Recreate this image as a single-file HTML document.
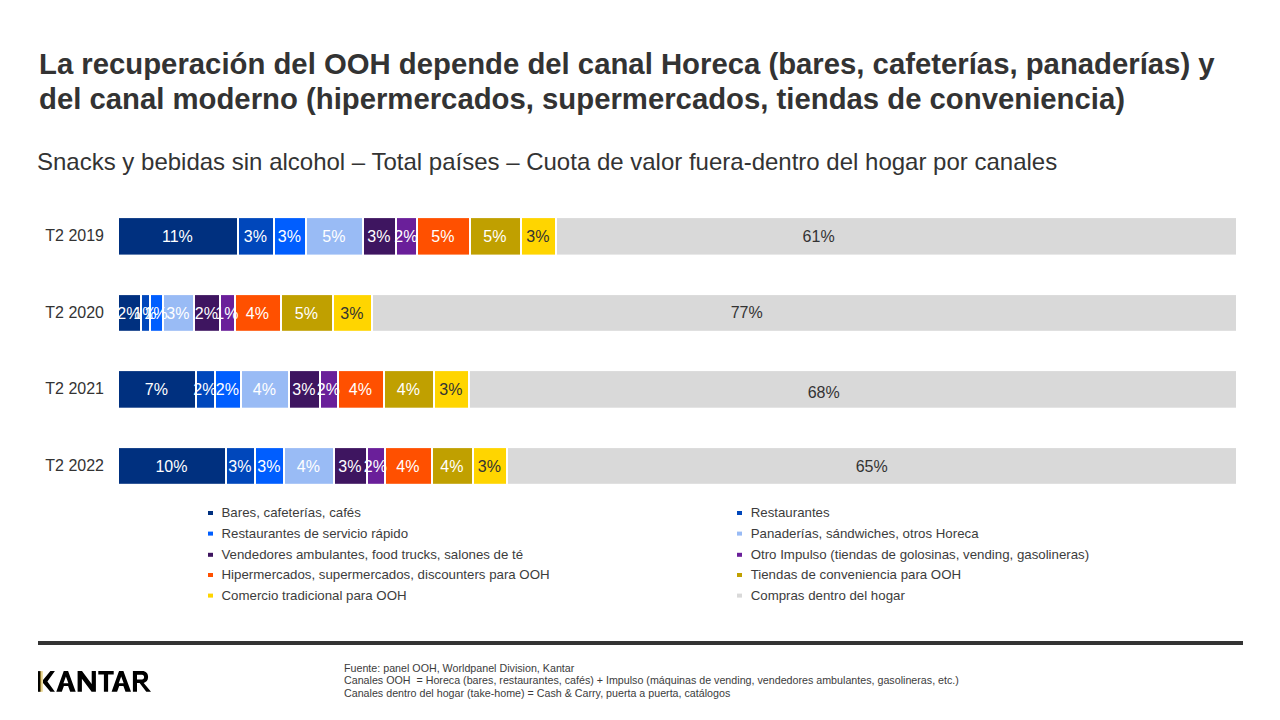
<!DOCTYPE html>
<html><head><meta charset="utf-8">
<style>
html,body{margin:0;padding:0;background:#fff;}
body{width:1280px;height:720px;overflow:hidden;position:relative;font-family:"Liberation Sans",sans-serif;color:#333;}
.title{position:absolute;left:39px;top:46px;font-size:29.3px;font-weight:bold;line-height:35px;white-space:nowrap;letter-spacing:0px;}
.sub{position:absolute;left:37px;top:148px;font-size:24px;line-height:28px;white-space:nowrap;}
svg{position:absolute;left:0;top:0;}
.yl{font-size:16px;fill:#333;}
.bl{font-size:16px;}
.lg{font-size:13.27px;fill:#3c3c3c;}
.foot{position:absolute;left:344px;top:661.5px;font-size:10.7px;line-height:12.7px;white-space:nowrap;color:#3c3c3c;}
.rule{position:absolute;left:38px;top:641px;width:1205px;height:4px;background:#333;}
</style></head><body>
<div class="title">La recuperación del OOH depende del canal Horeca (bares, cafeterías, panaderías) y<br>del canal moderno (hipermercados, supermercados, tiendas de conveniencia)</div>
<div class="sub">Snacks y bebidas sin alcohol – Total países – Cuota de valor fuera-dentro del hogar por canales</div>
<svg width="1280" height="720" viewBox="0 0 1280 720" font-family="Liberation Sans, sans-serif">
<text class="yl" x="104" y="241.2" text-anchor="end">T2 2019</text>
<rect x="119" y="218.1" width="118" height="36.5" fill="#00307F"/>
<rect x="239" y="218.1" width="34" height="36.5" fill="#0047BB"/>
<rect x="275" y="218.1" width="30" height="36.5" fill="#005EFF"/>
<rect x="307" y="218.1" width="55" height="36.5" fill="#99BBF5"/>
<rect x="364" y="218.1" width="31" height="36.5" fill="#3E1560"/>
<rect x="397" y="218.1" width="19" height="36.5" fill="#6A1F9A"/>
<rect x="418" y="218.1" width="51" height="36.5" fill="#FF5000"/>
<rect x="471" y="218.1" width="49" height="36.5" fill="#C0A000"/>
<rect x="522" y="218.1" width="33" height="36.5" fill="#FFD500"/>
<rect x="557" y="218.1" width="679" height="36.5" fill="#D9D9D9"/>
<text class="bl" x="177.4" y="242.2" fill="#fff" text-anchor="middle">11%</text>
<text class="bl" x="255.4" y="242.2" fill="#fff" text-anchor="middle">3%</text>
<text class="bl" x="289.4" y="242.2" fill="#fff" text-anchor="middle">3%</text>
<text class="bl" x="333.9" y="242.2" fill="#fff" text-anchor="middle">5%</text>
<text class="bl" x="378.9" y="242.2" fill="#fff" text-anchor="middle">3%</text>
<text class="bl" x="405.9" y="242.2" fill="#fff" text-anchor="middle">2%</text>
<text class="bl" x="442.9" y="242.2" fill="#fff" text-anchor="middle">5%</text>
<text class="bl" x="494.9" y="242.2" fill="#fff" text-anchor="middle">5%</text>
<text class="bl" x="537.9" y="242.2" fill="#333" text-anchor="middle">3%</text>
<text class="bl" x="818.6" y="242.2" fill="#333" text-anchor="middle">61%</text>
<text class="yl" x="104" y="317.8" text-anchor="end">T2 2020</text>
<rect x="119" y="295.1" width="21" height="35.7" fill="#00307F"/>
<rect x="142" y="295.1" width="7" height="35.7" fill="#0047BB"/>
<rect x="151" y="295.1" width="11" height="35.7" fill="#005EFF"/>
<rect x="164" y="295.1" width="29" height="35.7" fill="#99BBF5"/>
<rect x="195" y="295.1" width="24" height="35.7" fill="#3E1560"/>
<rect x="221" y="295.1" width="13" height="35.7" fill="#6A1F9A"/>
<rect x="236" y="295.1" width="44" height="35.7" fill="#FF5000"/>
<rect x="282" y="295.1" width="50" height="35.7" fill="#C0A000"/>
<rect x="334" y="295.1" width="37" height="35.7" fill="#FFD500"/>
<rect x="373" y="295.1" width="863" height="35.7" fill="#D9D9D9"/>
<text class="bl" x="128.9" y="318.8" fill="#fff" text-anchor="middle">2%</text>
<text class="bl" x="144.9" y="318.8" fill="#fff" text-anchor="middle">1%</text>
<text class="bl" x="155.9" y="318.8" fill="#fff" text-anchor="middle">1%</text>
<text class="bl" x="177.9" y="318.8" fill="#fff" text-anchor="middle">3%</text>
<text class="bl" x="206.4" y="318.8" fill="#fff" text-anchor="middle">2%</text>
<text class="bl" x="226.9" y="318.8" fill="#fff" text-anchor="middle">1%</text>
<text class="bl" x="257.4" y="318.8" fill="#fff" text-anchor="middle">4%</text>
<text class="bl" x="306.4" y="318.8" fill="#fff" text-anchor="middle">5%</text>
<text class="bl" x="351.9" y="318.8" fill="#333" text-anchor="middle">3%</text>
<text class="bl" x="746.7" y="317.8" fill="#333" text-anchor="middle">77%</text>
<text class="yl" x="104" y="394.2" text-anchor="end">T2 2021</text>
<rect x="119" y="371.1" width="76" height="36.6" fill="#00307F"/>
<rect x="197" y="371.1" width="17" height="36.6" fill="#0047BB"/>
<rect x="216" y="371.1" width="24" height="36.6" fill="#005EFF"/>
<rect x="242" y="371.1" width="46" height="36.6" fill="#99BBF5"/>
<rect x="290" y="371.1" width="29" height="36.6" fill="#3E1560"/>
<rect x="321" y="371.1" width="16" height="36.6" fill="#6A1F9A"/>
<rect x="339" y="371.1" width="44" height="36.6" fill="#FF5000"/>
<rect x="385" y="371.1" width="48" height="36.6" fill="#C0A000"/>
<rect x="435" y="371.1" width="33" height="36.6" fill="#FFD500"/>
<rect x="470" y="371.1" width="766" height="36.6" fill="#D9D9D9"/>
<text class="bl" x="156.4" y="395.2" fill="#fff" text-anchor="middle">7%</text>
<text class="bl" x="204.9" y="395.2" fill="#fff" text-anchor="middle">2%</text>
<text class="bl" x="227.4" y="395.2" fill="#fff" text-anchor="middle">2%</text>
<text class="bl" x="264.4" y="395.2" fill="#fff" text-anchor="middle">4%</text>
<text class="bl" x="303.9" y="395.2" fill="#fff" text-anchor="middle">3%</text>
<text class="bl" x="328.4" y="395.2" fill="#fff" text-anchor="middle">2%</text>
<text class="bl" x="360.4" y="395.2" fill="#fff" text-anchor="middle">4%</text>
<text class="bl" x="408.4" y="395.2" fill="#fff" text-anchor="middle">4%</text>
<text class="bl" x="450.9" y="395.2" fill="#333" text-anchor="middle">3%</text>
<text class="bl" x="823.7" y="397.7" fill="#333" text-anchor="middle">68%</text>
<text class="yl" x="104" y="470.8" text-anchor="end">T2 2022</text>
<rect x="119" y="448.1" width="106" height="35.7" fill="#00307F"/>
<rect x="227" y="448.1" width="27" height="35.7" fill="#0047BB"/>
<rect x="256" y="448.1" width="27" height="35.7" fill="#005EFF"/>
<rect x="285" y="448.1" width="48" height="35.7" fill="#99BBF5"/>
<rect x="335" y="448.1" width="31" height="35.7" fill="#3E1560"/>
<rect x="368" y="448.1" width="16" height="35.7" fill="#6A1F9A"/>
<rect x="386" y="448.1" width="45" height="35.7" fill="#FF5000"/>
<rect x="433" y="448.1" width="39" height="35.7" fill="#C0A000"/>
<rect x="474" y="448.1" width="32" height="35.7" fill="#FFD500"/>
<rect x="508" y="448.1" width="728" height="35.7" fill="#D9D9D9"/>
<text class="bl" x="171.4" y="471.8" fill="#fff" text-anchor="middle">10%</text>
<text class="bl" x="239.9" y="471.8" fill="#fff" text-anchor="middle">3%</text>
<text class="bl" x="268.9" y="471.8" fill="#fff" text-anchor="middle">3%</text>
<text class="bl" x="308.4" y="471.8" fill="#fff" text-anchor="middle">4%</text>
<text class="bl" x="349.9" y="471.8" fill="#fff" text-anchor="middle">3%</text>
<text class="bl" x="375.4" y="471.8" fill="#fff" text-anchor="middle">2%</text>
<text class="bl" x="407.9" y="471.8" fill="#fff" text-anchor="middle">4%</text>
<text class="bl" x="451.9" y="471.8" fill="#fff" text-anchor="middle">4%</text>
<text class="bl" x="489.4" y="471.8" fill="#333" text-anchor="middle">3%</text>
<text class="bl" x="871.7" y="471.8" fill="#333" text-anchor="middle">65%</text>
<rect x="208" y="511.0" width="5" height="4" fill="#00307F"/>
<text class="lg" x="221.5" y="517.0">Bares, cafeterías, cafés</text>
<rect x="208" y="531.6" width="5" height="4" fill="#005EFF"/>
<text class="lg" x="221.5" y="537.6">Restaurantes de servicio rápido</text>
<rect x="208" y="552.8" width="5" height="4" fill="#3E1560"/>
<text class="lg" x="221.5" y="558.8">Vendedores ambulantes, food trucks, salones de té</text>
<rect x="208" y="573.0" width="5" height="4" fill="#FF5000"/>
<text class="lg" x="221.5" y="579.0">Hipermercados, supermercados, discounters para OOH</text>
<rect x="208" y="593.6" width="5" height="4" fill="#FFD500"/>
<text class="lg" x="221.5" y="599.6">Comercio tradicional para OOH</text>
<rect x="737" y="511.0" width="5" height="4" fill="#0047BB"/>
<text class="lg" x="750.7" y="517.0">Restaurantes</text>
<rect x="737" y="531.6" width="5" height="4" fill="#99BBF5"/>
<text class="lg" x="750.7" y="537.6">Panaderías, sándwiches, otros Horeca</text>
<rect x="737" y="552.8" width="5" height="4" fill="#6A1F9A"/>
<text class="lg" x="750.7" y="558.8">Otro Impulso (tiendas de golosinas, vending, gasolineras)</text>
<rect x="737" y="573.0" width="5" height="4" fill="#C0A000"/>
<text class="lg" x="750.7" y="579.0">Tiendas de conveniencia para OOH</text>
<rect x="737" y="593.6" width="5" height="4" fill="#D9D9D9"/>
<text class="lg" x="750.7" y="599.6">Compras dentro del hogar</text>
<defs><linearGradient id="kg" x1="0" y1="0" x2="1" y2="0"><stop offset="0" stop-color="#000"/><stop offset="0.36" stop-color="#050400"/><stop offset="0.48" stop-color="#7a6420"/><stop offset="0.62" stop-color="#d9c27a"/><stop offset="0.85" stop-color="#f3e6b0"/><stop offset="1" stop-color="#e8d690"/></linearGradient></defs>
<rect x="38" y="671.1" width="5" height="20.7" fill="url(#kg)"/>
<path fill="#000" d="M43,679.9 L50.4,671.1 L54.9,671.1 L47.4,681.4 L54.9,691.8 L50.4,691.8 L43,682.9 Z"/>
<path fill="#000" fill-rule="evenodd" d="M56.3,691.8 L63.75,671.1 L68.1,671.1 L75.7,691.8 L70.2,691.8 L68.1,686 L63.9,686 L61.8,691.8 Z M65.9,676.6 L68.4,683.2 L63.4,683.2 Z"/>
<path fill="#000" d="M77.6,671.1 L82,671.1 L91.7,684 L91.7,671.1 L95.9,671.1 L95.9,691.8 L91.6,691.8 L81.9,678.7 L81.9,691.8 L77.6,691.8 Z"/>
<path fill="#000" d="M98.3,671.1 L113.7,671.1 L113.7,674.6 L108.1,674.6 L108.1,691.8 L103.9,691.8 L103.9,674.6 L98.3,674.6 Z"/>
<path fill="#000" fill-rule="evenodd" transform="translate(55.3 0)" d="M56.3,691.8 L63.75,671.1 L68.1,671.1 L75.7,691.8 L70.2,691.8 L68.1,686 L63.9,686 L61.8,691.8 Z M65.9,676.6 L68.4,683.2 L63.4,683.2 Z"/>
<path fill="#000" fill-rule="evenodd" d="M132.9,671.1 L142.2,671.1 C146,671.1 148.1,673.6 148.1,677.1 C148.1,680.2 146.3,682.4 143.7,682.9 L151,691.8 L146.3,691.8 L139.6,683 L137,683 L137,691.8 L132.9,691.8 Z M137,674.8 L142,674.8 C143.4,674.8 144.1,675.9 144.1,677.1 C144.1,678.4 143.4,679.5 142,679.5 L137,679.5 Z"/>

</svg>
<div class="rule"></div>
<div class="foot">Fuente: panel OOH, Worldpanel Division, Kantar<br>Canales OOH&nbsp; = Horeca (bares, restaurantes, cafés) + Impulso (máquinas de vending, vendedores ambulantes, gasolineras, etc.)<br>Canales dentro del hogar (take-home) = Cash &amp; Carry, puerta a puerta, catálogos</div>
</body></html>
